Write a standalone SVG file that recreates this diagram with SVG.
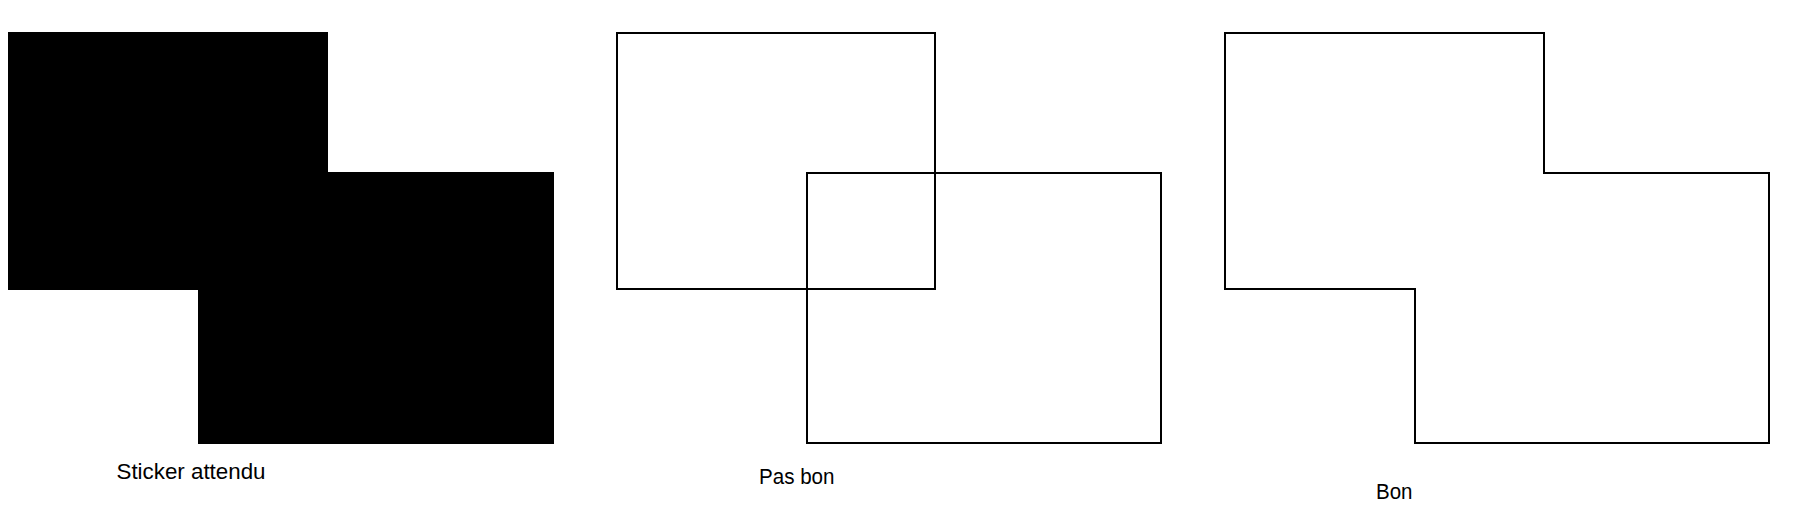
<svg xmlns="http://www.w3.org/2000/svg" width="1802" height="527" viewBox="0 0 1802 527">
<style>
.lbl{font-family:"Liberation Sans",Arial,sans-serif;font-size:22px;fill:#000}
.out{fill:none;stroke:#000;stroke-width:2}
</style>
<rect width="1802" height="527" fill="#fff"/>
<g id="sticker-attendu">
<path d="M8 32H328V172H554V444H198V290H8Z" fill="#000"/>
<text class="lbl" x="116.5" y="478.5" textLength="149" lengthAdjust="spacingAndGlyphs">Sticker attendu</text>
</g>
<g id="pas-bon">
<rect class="out" x="617" y="33" width="318" height="256"/>
<rect class="out" x="807" y="173" width="354" height="270"/>
<text class="lbl" x="759" y="483.5" textLength="75.5" lengthAdjust="spacingAndGlyphs">Pas bon</text>
</g>
<g id="bon">
<path class="out" d="M1225 33H1544V173H1769V443H1415V289H1225Z"/>
<text class="lbl" x="1376" y="498.5" textLength="36.5" lengthAdjust="spacingAndGlyphs">Bon</text>
</g>
<g id="connectors"/>
</svg>
